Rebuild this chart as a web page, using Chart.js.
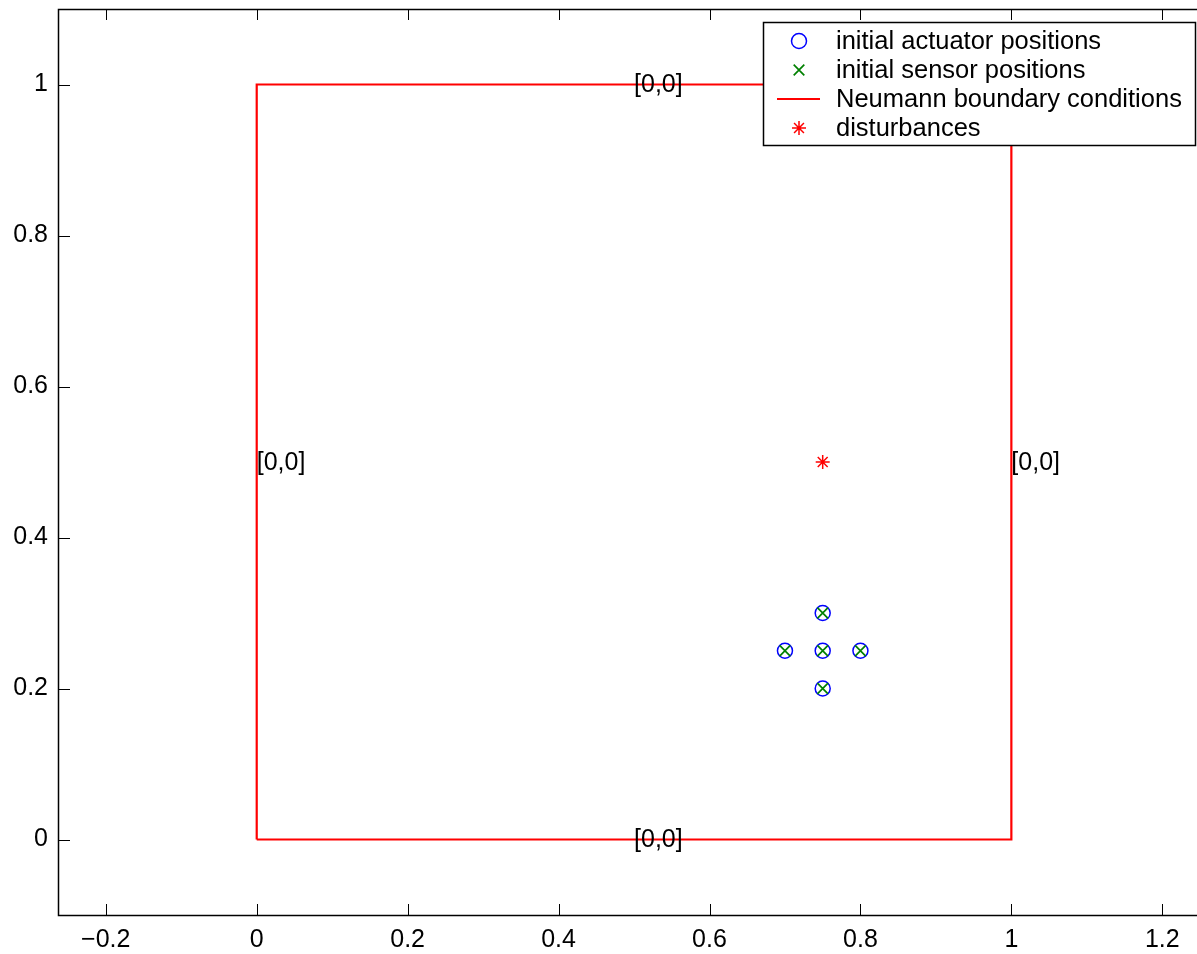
<!DOCTYPE html>
<html>
<head>
	<meta charset="utf-8" />
	<title>Actuator and sensor positions</title>
	<script src="https://cdn.jsdelivr.net/npm/chart.js@4.4.1/dist/chart.umd.min.js"></script>
	<style>
		html, body { margin: 0; background: #fff; overflow: hidden; }
		#wrap { width: 1197px; height: 954px; position: relative; }
	</style>
</head>
<body>

<div id="wrap"><canvas id="posChart"></canvas></div>

<script>

// data
var actuatorX = [0.75, 0.7, 0.75, 0.8, 0.75]
var actuatorY = [0.3, 0.25, 0.25, 0.25, 0.2]
var sensorX = [0.75, 0.7, 0.75, 0.8, 0.75]
var sensorY = [0.3, 0.25, 0.25, 0.25, 0.2]
var boundaryX = [0, 1, 1, 0, 0]
var boundaryY = [0, 0, 1, 1, 0]
var disturbanceX = [0.75]
var disturbanceY = [0.5]

var xTicks = [-0.2, 0, 0.2, 0.4, 0.6, 0.8, 1, 1.2]
var yTicks = [0, 0.2, 0.4, 0.6, 0.8, 1]

// the axes box ends at x = 1.262, a little past the picture's right edge
var xMin = -0.262, xMaxShown = 1.246, xBoxRight = 1.262

var noteX = [0.5, 0.5, 0, 1]
var noteY = [1, 0, 0.5, 0.5]
var noteText = ["[0,0]", "[0,0]", "[0,0]", "[0,0]"]

var legendOrder = ["initial actuator positions", "initial sensor positions",
	"Neumann boundary conditions", "disturbances"]

var FONT = "'Liberation Sans', Arial, Helvetica, sans-serif"

function pts(xs, ys) {
	var out = []
	for (var i = 0; i < xs.length; i++) out.push({x: xs[i], y: ys[i]})
	return out
}

function fmt(v) {
	var s = String(Math.round(Math.abs(v) * 10) / 10)
	return v < 0 ? "\u2212" + s : s
}

function noPad(s) {
	s.paddingLeft = 0; s.paddingRight = 0
	s.paddingTop = 0; s.paddingBottom = 0
}

// box round the axes and inward ticks on all four sides, like matlab
var boxPlugin = {
	id: "boxPlugin",
	afterDatasetsDraw: function(chart) {
		var ctx = chart.ctx
		var a = chart.chartArea
		var xs = chart.scales.x, ys = chart.scales.y
		var boxRight = xs.getPixelForValue(xBoxRight)
		var len = 11
		ctx.save()
		ctx.strokeStyle = "#000"
		ctx.lineWidth = 1
		ctx.beginPath()
		xTicks.forEach(function(v) {
			var px = Math.round(xs.getPixelForValue(v)) + 0.5
			ctx.moveTo(px, a.bottom); ctx.lineTo(px, a.bottom - len)
			ctx.moveTo(px, a.top); ctx.lineTo(px, a.top + len)
		})
		yTicks.forEach(function(v) {
			var py = Math.round(ys.getPixelForValue(v)) + 0.5
			ctx.moveTo(a.left, py); ctx.lineTo(a.left + len, py)
			ctx.moveTo(boxRight, py); ctx.lineTo(boxRight - len, py)
		})
		ctx.stroke()
		ctx.lineWidth = 1.5
		ctx.strokeRect(Math.round(a.left) - 0.5, Math.round(a.top) + 0.5,
			boxRight - a.left, a.bottom - a.top)

		// text notes
		ctx.fillStyle = "#000"
		ctx.font = "25px " + FONT
		ctx.textAlign = "left"
		ctx.textBaseline = "middle"
		for (var i = 0; i < noteText.length; i++) {
			ctx.fillText(noteText[i], xs.getPixelForValue(noteX[i]), ys.getPixelForValue(noteY[i]) + 1)
		}
		ctx.restore()
	},
	afterDraw: function(chart) {
		// legend box in the north east corner
		var ctx = chart.ctx
		var a = chart.chartArea
		var right = a.right - 2, top = a.top + 13
		var w = 432, rowH = 29
		var h = rowH * legendOrder.length + 7
		var left = right - w
		ctx.save()
		ctx.fillStyle = "#fff"
		ctx.fillRect(left, top, w, h)
		ctx.strokeStyle = "#000"
		ctx.lineWidth = 1.5
		ctx.strokeRect(left + 0.5, top + 0.5, w, h)
		ctx.font = "25.5px " + FONT
		ctx.textAlign = "left"
		ctx.textBaseline = "middle"
		legendOrder.forEach(function(label, i) {
			var ds = chart.data.datasets.find(function(d) { return d.label === label })
			var cy = top + 19 + i * rowH
			var cx = left + 36
			if (ds.showLine) {
				ctx.strokeStyle = ds.borderColor
				ctx.lineWidth = ds.borderWidth
				ctx.beginPath()
				ctx.moveTo(cx - 22, cy); ctx.lineTo(cx + 21, cy)
				ctx.stroke()
			} else {
				ctx.strokeStyle = ds.pointBorderColor
				ctx.fillStyle = ds.pointBackgroundColor
				ctx.lineWidth = ds.pointBorderWidth
				Chart.helpers.drawPoint(ctx, {
					pointStyle: ds.pointStyle, radius: ds.pointRadius,
					borderWidth: ds.pointBorderWidth, rotation: 0
				}, cx, cy)
			}
			ctx.fillStyle = "#000"
			ctx.fillText(label, left + 73, cy + 1)
		})
		ctx.restore()
	}
}

new Chart("posChart", {
	type: "scatter",
	data: {
		datasets: [{
			label: "initial sensor positions",
			data: pts(sensorX, sensorY),
			pointStyle: "crossRot",
			pointRadius: 7.5,
			pointBorderWidth: 1.7,
			pointBorderColor: "#008000",
			pointBackgroundColor: "#008000",
			showLine: false
		}, {
			label: "initial actuator positions",
			data: pts(actuatorX, actuatorY),
			pointStyle: "circle",
			pointRadius: 7.5,
			pointBorderWidth: 1.5,
			pointBorderColor: "#0000ff",
			pointBackgroundColor: "rgba(0,0,0,0)",
			showLine: false
		}, {
			label: "disturbances",
			data: pts(disturbanceX, disturbanceY),
			pointStyle: "star",
			pointRadius: 7,
			pointBorderWidth: 1.5,
			pointBorderColor: "#ff0000",
			pointBackgroundColor: "#ff0000",
			showLine: false
		}, {
			label: "Neumann boundary conditions",
			data: pts(boundaryX, boundaryY),
			showLine: true,
			borderColor: "#ff0000",
			borderWidth: 2.2,
			pointRadius: 0,
			fill: false,
			tension: 0
		}]
	},
	options: {
		responsive: true,
		maintainAspectRatio: false,
		animation: false,
		layout: {autoPadding: false, padding: {top: 9, right: 0, left: 0, bottom: 0}},
		plugins: {
			legend: {display: false},
			tooltip: {enabled: false}
		},
		scales: {
			x: {
				type: "linear",
				min: xMin,
				max: xMaxShown,
				grid: {display: false, drawTicks: false},
				border: {display: false},
				afterBuildTicks: function(s) { s.ticks = xTicks.map(function(v) { return {value: v} }) },
				afterFit: function(s) { s.height = 39; noPad(s) },
				ticks: {
					color: "#000",
					padding: 10,
					maxRotation: 0,
					autoSkip: false,
					font: {family: FONT, size: 25},
					callback: function(v) { return fmt(v) }
				}
			},
			y: {
				type: "linear",
				min: -0.1,
				max: 1.1,
				grid: {display: false, drawTicks: false},
				border: {display: false},
				afterBuildTicks: function(s) { s.ticks = yTicks.map(function(v) { return {value: v} }) },
				afterFit: function(s) { s.width = 59; noPad(s) },
				ticks: {
					color: "#000",
					padding: 11,
					autoSkip: false,
					font: {family: FONT, size: 25},
					callback: function(v) { return fmt(v) }
				}
			}
		}
	},
	plugins: [boxPlugin]
})

</script>

</body>
</html>
